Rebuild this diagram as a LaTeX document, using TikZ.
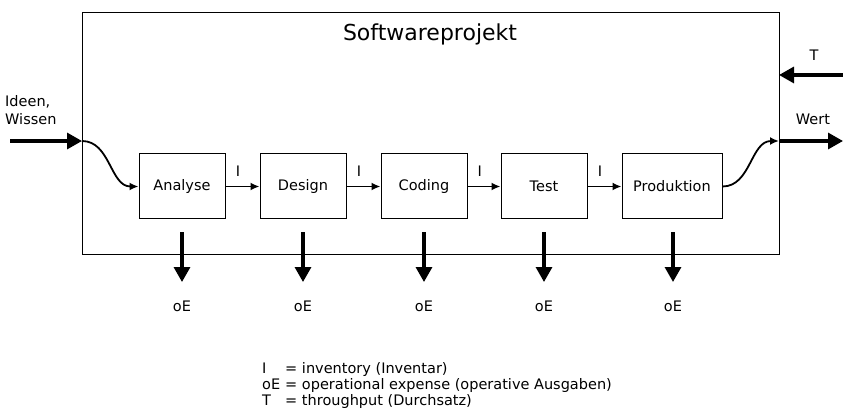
\documentclass[tikz,border=0pt]{standalone}
\usepackage{fontspec}
\setmainfont{DejaVu Sans}
\usetikzlibrary{arrows.meta,positioning}

\tikzstyle{stage} = [draw, line width=1pt, minimum width=86pt, minimum height=65pt, font=\fontsize{14.5}{17}\selectfont]
\tikzstyle{lbl} = [font=\fontsize{14.5}{16}\selectfont]
\tikzstyle{flow} = [draw, line width=1.8pt, -{Latex[length=9pt,width=8pt]}]
\tikzstyle{bigflow} = [draw, line width=3.2pt, -{Triangle[length=15pt,width=16pt]}]

\begin{document}
\begin{tikzpicture}[x=1pt, y=-1pt]
    \useasboundingbox (0,0) rectangle (843,414);

    % frame
    \node[draw, line width=1pt, minimum width=697pt, minimum height=242pt, anchor=north west, inner sep=0pt] (projekt) at (82,12) {};
    \node[font=\fontsize{22}{26}\selectfont] (titel) at (430,34) {Softwareprojekt};

    % stages
    \node[stage] (analyse) at (182,186.5) {Analyse};
    \node[stage] (design) at (303,186.5) {Design};
    \node[stage] (coding) at (424,186.5) {Coding};
    \node[stage] (test) at (544,186.5) {Test};
    \node[stage, minimum width=100pt] (produktion) at (672,186.5) {Produktion};

    \draw[flow] (analyse) -- node[lbl, above=6pt, pos=0.37] {I} (design);
    \draw[flow] (design) -- node[lbl, above=6pt, pos=0.37] {I} (coding);
    \draw[flow] (coding) -- node[lbl, above=6pt, pos=0.37] {I} (test);
    \draw[flow] (test) -- node[lbl, above=6pt, pos=0.37] {I} (produktion);

    % input
    \coordinate (ein) at (10,141);
    \coordinate (links) at (82,141);
    \node[lbl, align=left, anchor=north west, inner sep=0pt, font=\fontsize{14.5}{18}\selectfont] (ideen) at (5,95) {Ideen,\\Wissen};
    \draw[bigflow] (ein) -- (links);
    \draw[flow] (links) to[out=0, in=180] (analyse.west);

    % output
    \coordinate (rechts) at (779,141);
    \coordinate (aus) at (843,141);
    \node[lbl] (wert) at (813,119) {Wert};
    \draw[flow] (produktion.east) to[out=0, in=180] (rechts);
    \draw[bigflow] (rechts) -- (aus);

    % throughput
    \coordinate (tein) at (843,75);
    \coordinate (tpunkt) at (779,75);
    \node[lbl] (tlabel) at (814,55) {T};
    \draw[bigflow] (tein) -- (tpunkt);

    % operational expense
    \foreach \s/\x in {analyse/182, design/303, coding/424, test/544, produktion/673} {
        \coordinate (\s-oben) at (\x,232);
        \node[lbl] (\s-oe) at (\x,306) {oE};
        \draw[bigflow] (\s-oben) -- (\x,282);
    }

    % legend
    \node[lbl, anchor=north west, inner sep=0pt] (legende) at (262,362) {%
        \begin{tabular}{@{}l@{\hspace{5pt}}l@{}}
        I & = inventory (Inventar)\\
        oE & = operational expense (operative Ausgaben)\\
        T & = throughput (Durchsatz)
        \end{tabular}};
\end{tikzpicture}
\end{document}
